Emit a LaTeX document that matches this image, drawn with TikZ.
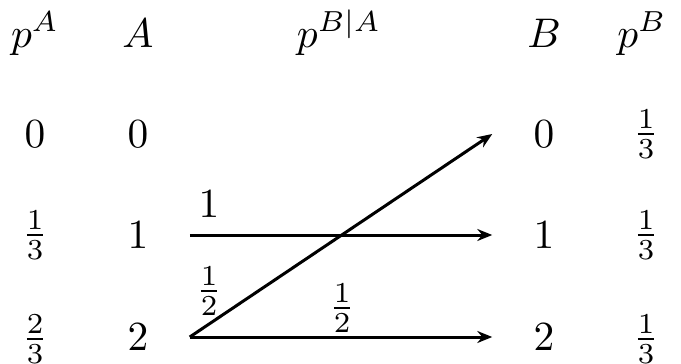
\documentclass[tikz,border=0pt]{standalone}
\usepackage{amsmath}
\usepackage{tikz}
\usetikzlibrary{arrows.meta,positioning}

\begin{document}
\begin{tikzpicture}[
  x=0.5pt, y=-0.5pt,
  every node/.style={scale=2.07, transform shape},
  head/.style={anchor=base, inner sep=0pt},
  val/.style={inner sep=0pt},
  col/.style={val, minimum width=24.6pt},
  lbl/.style={inner sep=0pt},
  flow/.style={-{Stealth[length=7.5pt, width=6pt, inset=2.5pt]}, line width=1.5pt}
]
\useasboundingbox (0,0) rectangle (681,364);

% headers
\node[head] (hpa) at (35,47) {$p^A$};
\node[head] (ha) at (138,47) {$A$};
\node[head] (hpba) at (339,47) {$p^{B|A}$};
\node[head] (hb) at (544,47) {$B$};
\node[head] (hpb) at (642,47) {$p^B$};

% left columns
\node[val] (pa0) at (35,134) {$0$};
\node[val] (pa1) at (35,235) {$\frac{1}{3}$};
\node[val] (pa2) at (35,339) {$\frac{2}{3}$};
\node[col] (a0) at (138,134) {$0$};
\node[col] (a1) at (138,235) {$1$};
\node[col] (a2) at (138,337) {$2$};

% right columns
\node[col] (b0) at (544,134) {$0$};
\node[col] (b1) at (544,235) {$1$};
\node[col] (b2) at (544,337) {$2$};
\node[val] (pb0) at (646,134) {$\frac{1}{3}$};
\node[val] (pb1) at (646,235) {$\frac{1}{3}$};
\node[val] (pb2) at (646,339) {$\frac{1}{3}$};

% transitions
\draw[flow] (a1.east) -- (b1.west);
\draw[flow] (a2.east) -- (b2.west);
\draw[flow] (a2.east) -- (b0.west);
\node[lbl] (w11) at (209,204) {$1$};
\node[lbl] (w20) at (209,291) {$\frac{1}{2}$};
\node[lbl] (w22) at (342,308) {$\frac{1}{2}$};
\end{tikzpicture}
\end{document}
